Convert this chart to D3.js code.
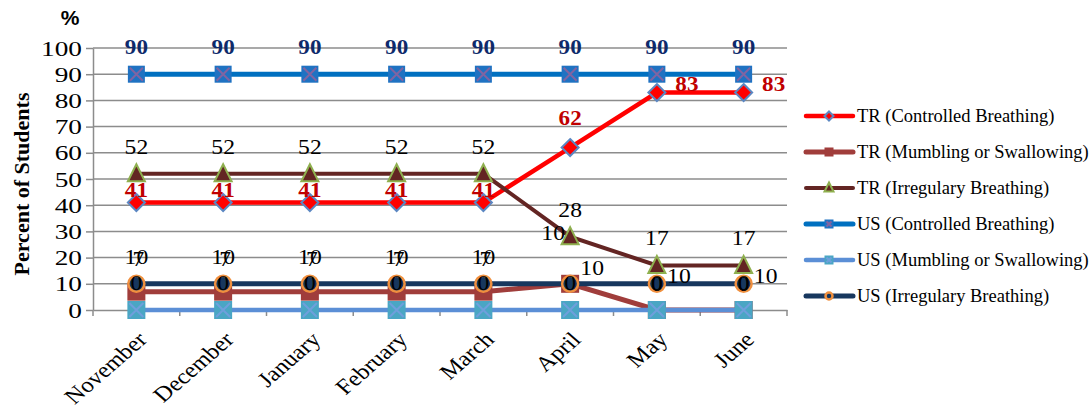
<!DOCTYPE html>
<html>
<head>
<meta charset="utf-8" />
<title>Percent of Students</title>
<script src="https://d3js.org/d3.v7.min.js"></script>
<style type='text/css'>
    body { margin: 0; background: #fff; }
    text { font-family: "Liberation Serif", "Times New Roman", serif; }
    .grid line { stroke: #8c8c8c; stroke-width: 1.5; }
    .axis path, .axis line { stroke: #8c8c8c; stroke-width: 1.5; }
</style>
</head>
<body>
<script>
    // data
    var months = ['November', 'December', 'January', 'February', 'March', 'April', 'May', 'June'];
    var yTicks = [0, 10, 20, 30, 40, 50, 60, 70, 80, 90, 100];

    var trControlled = [41, 41, 41, 41, 41, 62, 83, 83];
    var trMumbling = [7, 7, 7, 7, 7, 10, 0, 0];
    var trIrregular = [52, 52, 52, 52, 52, 28, 17, 17];
    var usControlled = [90, 90, 90, 90, 90, 90, 90, 90];
    var usMumbling = [0, 0, 0, 0, 0, 0, 0, 0];
    var usIrregular = [10, 10, 10, 10, 10, 10, 10, 10];

    var names = ['TR (Controlled Breathing)', 'TR (Mumbling or Swallowing)', 'TR (Irregulary Breathing)',
        'US  (Controlled Breathing)', 'US (Mumbling or Swallowing)', 'US (Irregulary Breathing)'];

    var width = 1091, height = 410
        , plotLeft = 93, plotRight = 787, plotTop = 48, plotBottom = 310;

    var series = [
        { name: names[0], values: trControlled, line: '#ff0000', lw: 4.5, marker: 'diamond', fill: '#ff0000', stroke: '#5b87c2', size: 17, label: '#c00000', bold: true },
        { name: names[1], values: trMumbling, line: '#a03d3b', lw: 5, marker: 'square', fill: '#a03d3b', stroke: '#a03d3b', size: 18, label: '#000', bold: false },
        { name: names[2], values: trIrregular, line: '#632523', lw: 4, marker: 'triangle', fill: '#632523', stroke: '#8fb04f', size: 17, label: '#000', bold: false },
        { name: names[3], values: usControlled, line: '#0070c0', lw: 5, marker: 'xsquare', fill: '#1f72c2', stroke: '#8064a2', size: 17, label: '#0e2a6b', bold: true },
        { name: names[4], values: usMumbling, line: '#5b8fd6', lw: 4.5, marker: 'xsquare', fill: '#4aa6c4', stroke: '#6f9fdc', size: 18, label: '#000', bold: false },
        { name: names[5], values: usIrregular, line: '#17375e', lw: 5, marker: 'circle', fill: '#17375e', stroke: '#f0903f', size: 18, label: '#000', bold: false }
    ];

    // where each data label sits relative to its point [dx, dy of baseline]
    function labelOffset(s, i) {
        if (s == 0) {
            if (i < 5) return [0, -6];
            if (i == 5) return [0, -23];
            return [30, -2];
        }
        if (s == 1) {
            if (i < 5) return [2, -26];
            if (i == 5) return [-17, -44];
            return [0, -19];
        }
        if (s == 5) {
            if (i < 5) return [0, -20];
            if (i == 5) return [22, -9];
            return [22, -1];
        }
        return [0, -20];
    }

    var svg = d3.select('body').append('svg')
        .attr('width', width)
        .attr('height', height);

    var x = d3.scaleBand().domain(months).range([plotLeft, plotRight]);
    var y = d3.scaleLinear().domain([0, 100]).range([plotBottom, plotTop]);
    var cx = d => x(d) + x.bandwidth() / 2;

    // gridlines
    svg.append('g').attr('class', 'grid')
        .selectAll('line').data(yTicks.slice(1)).enter().append('line')
        .attr('x1', plotLeft).attr('x2', plotRight)
        .attr('y1', d => y(d)).attr('y2', d => y(d));

    // y axis (the original's text is a bit wide, hence the scaleX)
    var ySx = 1.3;
    var yAxis = svg.append('g').attr('class', 'axis')
        .attr('transform', `translate(${plotLeft},0)`)
        .call(d3.axisLeft(y).tickValues(yTicks).tickSize(7).tickSizeOuter(0).tickPadding(4));
    yAxis.selectAll('text')
        .style('font-size', '21px').attr('fill', '#000').attr('dy', '0.34em')
        .attr('x', -11 / ySx).attr('transform', `scale(${ySx},1)`);

    // x axis
    svg.append('g').attr('class', 'axis')
        .attr('transform', `translate(0,${plotBottom})`)
        .call(d3.axisBottom(x).tickSize(0).tickFormat(''));
    svg.append('g').attr('class', 'axis')
        .selectAll('line').data(d3.range(months.length + 1)).enter().append('line')
        .attr('x1', i => plotLeft + i * x.step()).attr('x2', i => plotLeft + i * x.step())
        .attr('y1', plotBottom).attr('y2', plotBottom + 6);

    svg.append('g').selectAll('text').data(months).enter().append('text')
        .attr('transform', d => `translate(${cx(d) + 12},${plotBottom + 31}) scale(1.15,1) rotate(-45)`)
        .attr('text-anchor', 'end')
        .style('font-size', '21.5px')
        .text(d => d);

    // axis titles
    svg.append('text')
        .attr('transform', `translate(29,${(plotTop + plotBottom) / 2 + 5}) rotate(-90)`)
        .attr('text-anchor', 'middle')
        .style('font-size', '22px').style('font-weight', 'bold')
        .text('Percent of Students');

    svg.append('text')
        .attr('x', 70).attr('y', 25)
        .attr('text-anchor', 'middle')
        .style('font-family', '"Liberation Sans", Arial, sans-serif')
        .style('font-size', '21px').style('font-weight', 'bold')
        .text('%');

    function drawMarker(g, s, px, py, size) {
        var h = size / 2;
        if (s.marker == 'diamond') {
            g.append('path').attr('d', `M${px},${py - h}L${px + h},${py}L${px},${py + h}L${px - h},${py}Z`)
                .attr('fill', s.fill).attr('stroke', s.stroke).attr('stroke-width', 2);
        } else if (s.marker == 'square') {
            g.append('rect').attr('x', px - h).attr('y', py - h).attr('width', size).attr('height', size)
                .attr('fill', s.fill);
        } else if (s.marker == 'triangle') {
            g.append('path').attr('d', `M${px},${py - h - 1}L${px + h},${py + h - 1}L${px - h},${py + h - 1}Z`)
                .attr('fill', s.fill).attr('stroke', s.stroke).attr('stroke-width', 2);
        } else if (s.marker == 'xsquare') {
            g.append('rect').attr('x', px - h).attr('y', py - h).attr('width', size).attr('height', size)
                .attr('fill', s.fill);
            g.append('path').attr('d', `M${px - h + 2},${py - h + 2}L${px + h - 2},${py + h - 2}M${px + h - 2},${py - h + 2}L${px - h + 2},${py + h - 2}`)
                .attr('stroke', s.stroke).attr('stroke-width', 2);
        } else if (s.marker == 'circle') {
            g.append('circle').attr('cx', px).attr('cy', py).attr('r', h - 1)
                .attr('fill', s.fill).attr('stroke', s.stroke).attr('stroke-width', 2.5);
        }
    }

    var line = d3.line().x((d, i) => cx(months[i])).y(d => y(d));

    series.forEach(function (s) {
        var g = svg.append('g');
        g.append('path').datum(s.values)
            .attr('d', line)
            .attr('fill', 'none')
            .attr('stroke', s.line)
            .attr('stroke-width', s.lw);
        s.values.forEach(function (v, i) {
            drawMarker(g, s, cx(months[i]), y(v), s.size);
        });
    });

    // data labels
    series.forEach(function (s, si) {
        var sx = s.bold ? 1.05 : 1.18;
        svg.append('g').selectAll('text').data(s.values).enter().append('text')
            .attr('transform', (d, i) => `translate(${cx(months[i]) + labelOffset(si, i)[0]},${y(d) + labelOffset(si, i)[1]}) scale(${sx},1)`)
            .attr('text-anchor', 'middle')
            .attr('fill', s.label)
            .style('font-size', s.bold ? '22px' : '20px')
            .style('font-weight', s.bold ? 'bold' : 'normal')
            .text(d => d);
    });

    // legend
    var legend = svg.append('g').selectAll('g').data(series).enter().append('g')
        .attr('transform', (d, i) => `translate(0,${116 + i * 36})`);
    legend.each(function (s) {
        var g = d3.select(this);
        g.append('line').attr('x1', 806).attr('x2', 853).attr('y1', 0).attr('y2', 0)
            .attr('stroke', s.line).attr('stroke-width', s.lw).attr('stroke-linecap', 'round');
        drawMarker(g, s, 829, 0, 9);
        g.append('text').attr('x', 857).attr('y', 6)
            .style('font-size', '18.5px')
            .text(s.name);
    });
</script>
</body>
</html>
